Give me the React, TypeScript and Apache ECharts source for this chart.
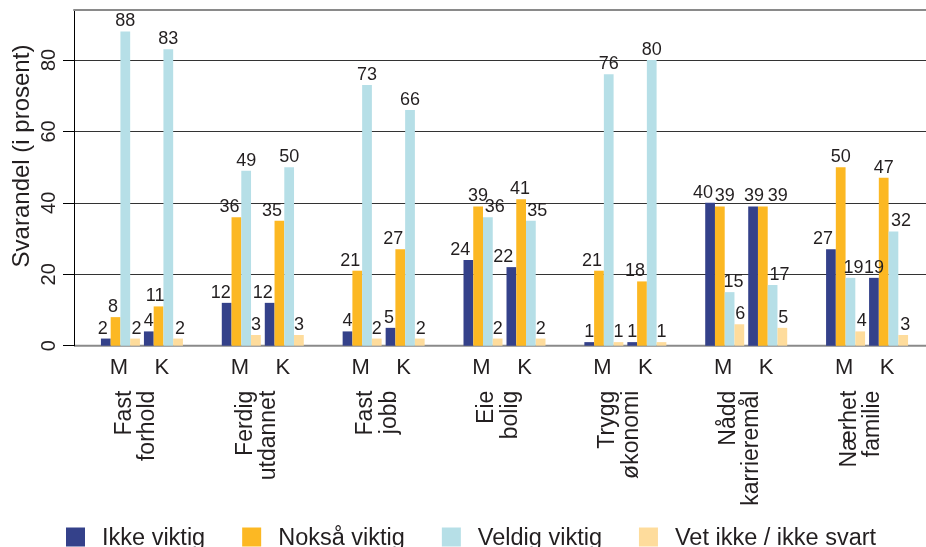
import { useEffect, useRef } from 'react';
import * as echarts from 'echarts';

const groups = ['Fast\nforhold', 'Ferdig\nutdannet', 'Fast\njobb', 'Eie\nbolig', 'Trygg\nøkonomi', 'Nådd\nkarrieremål', 'Nærhet\nfamilie'];
const seriesNames = ['Ikke viktig', 'Nokså viktig', 'Veldig viktig', 'Vet ikke / ikke svart'];
const colors = ['#34418a', '#fcb823', '#b6dfe7', '#fedc9c'];
const ikkeM = [2, 12, 4, 24, 1, 40, 27];
const noksaM = [8, 36, 21, 39, 21, 39, 50];
const veldigM = [88, 49, 73, 36, 76, 15, 19];
const vetM = [2, 3, 2, 2, 1, 6, 4];
const ikkeK = [4, 12, 5, 22, 1, 39, 19];
const noksaK = [11, 35, 27, 41, 18, 39, 47];
const veldigK = [83, 50, 66, 35, 80, 17, 32];
const vetK = [2, 3, 2, 2, 1, 5, 3];
const yMax = 94;
const yTickMax = 80;

// horizontal nudges of the value labels (pixels), as placed in the reference
const labelShiftM = [
  [-3, -6, 0, -8, 0, -7, -8],
  [-2.5, -7, -7, 0, -7, 5, 0],
  [0, 0, 0, 7, 0, 4, 3],
  [1.5, 0, 0, 0, 0, 1, 1.5],
];
const labelShiftK = [
  [0, -7, -1.5, -8, 0, 1, 0],
  [-3.5, -7.5, -7, -1, -7, 15, 0],
  [0, 0, 0, 6.5, 0, 7, 7.5],
  [2, 0, 1, 0, 0, 1, 2],
];

const font = "'Liberation Sans', Arial, Helvetica, sans-serif";
const textColor = '#231f20';
const barW = 9.75;

function barSeries(name: string, data: number[], color: string, shifts: number[]) {
  return {
    type: 'bar',
    name,
    data: data.map((v, i) => ({ value: v, label: { offset: [shifts[i], 0] } })),
    xAxisIndex: 2,
    yAxisIndex: 2,
    barWidth: barW,
    barGap: '0%',
    itemStyle: { color },
    label: { show: true, position: 'top', distance: 2, fontSize: 18, color: textColor, fontFamily: font },
  };
}

function spacer(name: string, w: number) {
  return {
    type: 'bar',
    name,
    data: groups.map(() => 0),
    xAxisIndex: 2,
    yAxisIndex: 2,
    barWidth: w,
    barGap: '0%',
    itemStyle: { color: 'rgba(0,0,0,0)' },
    label: { show: false },
    silent: true,
  };
}

const plotTop = 10;
const plotBottom = 201.3;
const plotH = 547 - plotTop - plotBottom;
const tickTop = plotTop + plotH * (1 - yTickMax / yMax);

export default function App() {
  const ref = useRef<HTMLDivElement>(null);
  useEffect(() => {
    if (!ref.current) return;
    const chart = echarts.init(ref.current, null, { renderer: 'svg' });
    const hiddenVal = { axisTick: { show: false }, axisLabel: { show: false }, splitLine: { show: false } };
    const option = {
      animation: false,
      textStyle: { fontFamily: font },
      grid: [
        { left: 74, right: 0, top: plotTop, bottom: plotBottom },
        { left: 74, right: 0, top: tickTop, bottom: plotBottom },
        { left: 74, right: 6, top: plotTop, bottom: plotBottom },
      ],
      xAxis: [
        {
          gridIndex: 0, type: 'value', min: 0, max: 1, position: 'top',
          axisLine: { show: true, onZero: false, lineStyle: { color: '#8a8a8a', width: 2 } },
          ...hiddenVal,
        },
        {
          gridIndex: 1, type: 'value', min: 0, max: 1, position: 'bottom', show: false,
        },
        {
          gridIndex: 2, type: 'category', data: groups, position: 'bottom',
          axisLine: { show: false }, axisTick: { show: false },
          axisLabel: {
            interval: 0, rotate: 90, margin: 45, fontSize: 23, lineHeight: 23.5,
            color: textColor, fontFamily: font,
          },
        },
        {
          gridIndex: 2, type: 'category', data: groups, position: 'bottom',
          axisLine: { show: false }, axisTick: { show: false },
          axisLabel: {
            interval: 0, margin: 10,
            formatter: () => '{p| }{m|M}{k|K}',
            rich: {
              p: { width: 12, fontSize: 22, fontFamily: font },
              m: { width: 43, align: 'center', fontSize: 22, color: textColor, fontFamily: font },
              k: { width: 43, align: 'center', fontSize: 22, color: textColor, fontFamily: font },
            },
          },
        },
      ],
      yAxis: [
        {
          gridIndex: 0, type: 'value', min: 0, max: yMax,
          axisLine: { show: true, lineStyle: { color: '#000', width: 1 } },
          ...hiddenVal,
        },
        {
          gridIndex: 1, type: 'value', min: 0, max: yTickMax, interval: 20,
          axisLine: { show: false },
          axisTick: { show: true, length: 11, lineStyle: { color: '#000' } },
          axisLabel: { rotate: 90, margin: 16, fontSize: 20, color: textColor, fontFamily: font },
          splitLine: { show: true, lineStyle: { color: ['#8a8a8a', '#333', '#333', '#333', '#333'], width: 1 } },
        },
        { gridIndex: 2, type: 'value', min: 0, max: yMax, show: false },
      ],
      legend: {
        data: seriesNames,
        left: 66, top: 525, padding: 0,
        itemWidth: 19, itemHeight: 19, itemGap: 37,
        icon: 'rect',
        textStyle: { fontSize: 23.5, color: textColor, fontFamily: font, padding: [0, 0, 0, 12] },
      },
      graphic: [
        {
          type: 'line', silent: true,
          shape: { x1: 74, y1: 547 - plotBottom, x2: 926, y2: 547 - plotBottom },
          style: { stroke: '#8a8a8a', lineWidth: 2 },
        },
        {
          type: 'text', x: 20, y: 156, rotation: Math.PI / 2,
          style: { text: 'Svarandel (i prosent)', fontSize: 24, fill: textColor, fontFamily: font, align: 'center', verticalAlign: 'middle' },
        },
      ],
      series: [
        spacer('spL', 15),
        barSeries(seriesNames[0], ikkeM, colors[0], labelShiftM[0]),
        barSeries(seriesNames[1], noksaM, colors[1], labelShiftM[1]),
        barSeries(seriesNames[2], veldigM, colors[2], labelShiftM[2]),
        barSeries(seriesNames[3], vetM, colors[3], labelShiftM[3]),
        spacer('spM', 4),
        barSeries(seriesNames[0], ikkeK, colors[0], labelShiftK[0]),
        barSeries(seriesNames[1], noksaK, colors[1], labelShiftK[1]),
        barSeries(seriesNames[2], veldigK, colors[2], labelShiftK[2]),
        barSeries(seriesNames[3], vetK, colors[3], labelShiftK[3]),
      ],
    };
    chart.setOption(option as any);
    return () => chart.dispose();
  }, []);
  return <div ref={ref} style={{ position: 'fixed', left: 0, top: 0, width: 926, height: 547 }} />;
}
